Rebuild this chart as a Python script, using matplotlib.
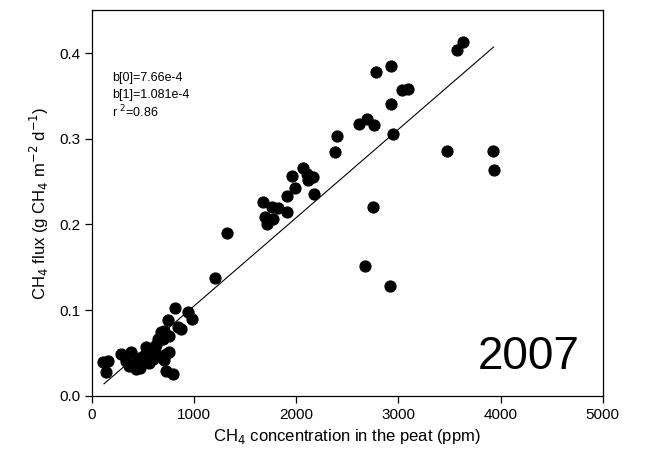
import matplotlib
matplotlib.use('Agg')
import matplotlib.pyplot as plt
import numpy as np

plt.rcParams['font.family'] = ['Liberation Sans', 'DejaVu Sans']

# ------------ data ----------------------------------------- #
ch4_conc = [107, 137, 156, 283, 332, 361, 380, 410, 429, 459, 498, 507, 527, 556, 595,
            624, 644, 673, 693, 722, 702, 693, 751, 702, 722, 790, 741, 839, 868, 810,
            937, 976, 751, 1200, 1317,
            1678, 1698, 1717, 1766, 1776, 1824, 1912, 1912, 1961, 1990, 2068, 2117, 2107,
            2166, 2176, 2380, 2400, 2615, 2693, 2761, 2927, 2946, 2780, 2927, 3034, 3093,
            3571, 3629,
            2673, 2751, 2917, 3473, 3922, 3932,
            470, 560, 620]
ch4_flux = [0.040, 0.028, 0.041, 0.049, 0.041, 0.035, 0.051, 0.037, 0.031, 0.044, 0.040,
            0.047, 0.057, 0.051, 0.043, 0.059, 0.066, 0.074, 0.044, 0.049, 0.076, 0.066,
            0.051, 0.042, 0.029, 0.026, 0.088, 0.080, 0.078, 0.102, 0.098, 0.090, 0.070,
            0.137, 0.190,
            0.226, 0.209, 0.200, 0.220, 0.206, 0.219, 0.233, 0.214, 0.257, 0.243, 0.266,
            0.252, 0.259, 0.255, 0.235, 0.284, 0.303, 0.317, 0.323, 0.316, 0.341, 0.306,
            0.378, 0.385, 0.357, 0.358, 0.403, 0.413,
            0.151, 0.220, 0.128, 0.286, 0.286, 0.263,
            0.033, 0.038, 0.052]

fit_x = [117, 3932]
fit_y = [0.014, 0.407]

b0_txt = 'b[0]=7.66e-4'
b1_txt = 'b[1]=1.081e-4'
r2_txt = 'r $^{2}$=0.86'
year = '2007'

# ------------------------------------------------------------ #
fig = plt.figure(figsize=(6.48, 4.63), dpi=100)
ax = fig.add_axes([0.142, 0.145, 0.788, 0.833])

ax.plot(fit_x, fit_y, c='k', lw=0.8)
ax.plot(ch4_conc, ch4_flux, 'o', c='k', ms=7.8, mec='k')

ax.set_xlim(0, 5000)
ax.set_ylim(0, 0.45)
ax.set_xticks(np.arange(0, 5001, 1000))
ax.set_yticks(np.arange(0, 0.41, 0.1))
ax.set_yticklabels(['0.0', '0.1', '0.2', '0.3', '0.4'])
ax.tick_params(direction='out', length=5, width=0.9, labelsize=11, colors='k')
for s in ax.spines.values():
    s.set_linewidth(0.9)

ax.set_xlabel('CH$_4$ concentration in the peat (ppm)', fontsize=12, labelpad=4)
ax.set_ylabel('CH$_4$ flux (g CH$_4$ m$^{-2}$ d$^{-1}$)', fontsize=12, labelpad=6)

ax.text(0.039, 0.824, b0_txt, transform=ax.transAxes, fontsize=9, va='center')
ax.text(0.039, 0.780, b1_txt, transform=ax.transAxes, fontsize=9, va='center')
ax.text(0.039, 0.736, r2_txt, transform=ax.transAxes, fontsize=9, va='center')
ax.text(0.855, 0.10, year, transform=ax.transAxes, fontsize=33, ha='center', va='center')

plt.savefig('out.png', dpi=100)
